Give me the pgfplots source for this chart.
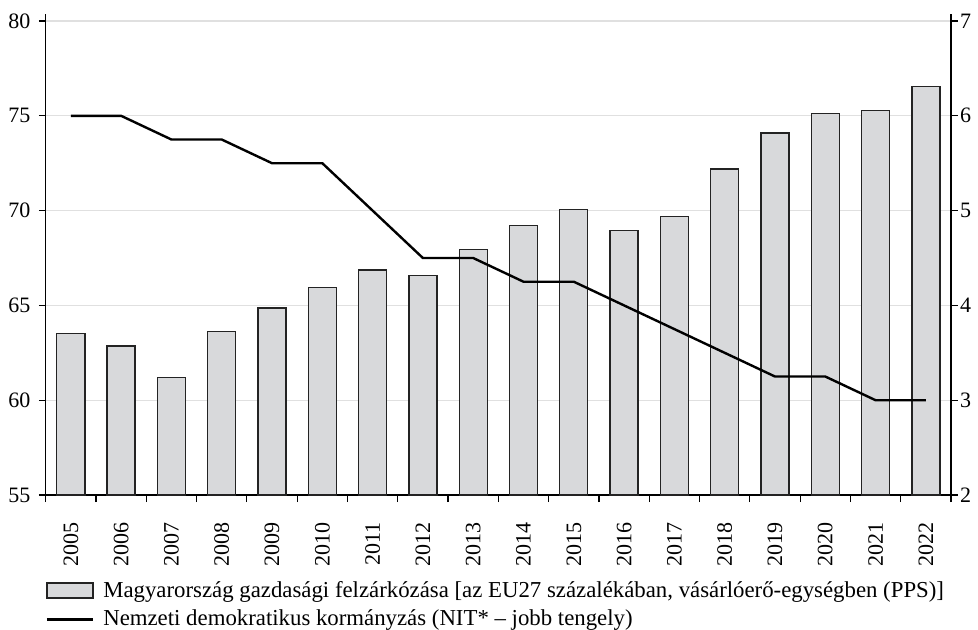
\documentclass[border=0pt]{standalone}
\usepackage{fontspec}
\setmainfont{Liberation Serif}
\usepackage{pgfplots}
\pgfplotsset{compat=1.18}
\definecolor{barfill}{RGB}{216,217,219}
\definecolor{baredge}{RGB}{35,35,35}
\definecolor{gridc}{RGB}{224,224,224}
\begin{document}
\begin{tikzpicture}
\useasboundingbox (-22.85pt,-67pt) rectangle (466.15pt,247.5pt);
\begin{axis}[
  at={(0,0)}, anchor=south west, scale only axis,
  width=452.65pt, height=240.5pt,
  xmin=-0.5, xmax=17.5, ymin=55, ymax=80.37,
  axis x line*=bottom, axis y line*=left,
  axis line style={line width=0.6pt},
  ytick={55,60,...,80},
  ymajorgrids, grid style={gridc, line width=0.6pt},
  xtick={0,...,17},
  xticklabels={2005,2006,2007,2008,2009,2010,2011,2012,2013,2014,2015,2016,2017,2018,2019,2020,2021,2022},
  major x tick style={draw=none},
  extra x ticks={-0.5,0.5,...,17.5},
  extra x tick labels={},
  extra x tick style={major x tick style={draw=black, line width=0.6pt}, major tick length=3.5pt},
  tick align=outside, major tick length=3.4pt,
  ytick style={black, line width=0.6pt},
  /pgf/number format/assume math mode=true,
  yticklabel style={font=\fontsize{11}{13}\selectfont, inner sep=0pt, xshift=-4pt},
  xticklabel style={rotate=90, anchor=east, font=\fontsize{11}{13}\selectfont, inner sep=0pt},
  xticklabel shift=10pt,
]
\addplot[ybar, bar width=0.557, fill=barfill, draw=baredge, line width=0.65pt] coordinates {
(0,63.51) (1,62.86) (2,61.21) (3,63.63) (4,64.86) (5,65.93) (6,66.87) (7,66.59) (8,67.94)
(9,69.2) (10,70.07) (11,68.94) (12,69.68) (13,72.19) (14,74.1) (15,75.11) (16,75.29) (17,76.56)};
\end{axis}
\begin{axis}[
  at={(0,0)}, anchor=south west, scale only axis,
  width=452.65pt, height=240.5pt,
  xmin=-0.5, xmax=17.5, ymin=2, ymax=7.074,
  axis y line*=right, axis x line=none,
  axis line style={line width=0.6pt},
  ytick={2,...,7},
  tick align=outside, major tick length=3.4pt,
  ytick style={black, line width=0.6pt},
  /pgf/number format/assume math mode=true,
  yticklabel style={font=\fontsize{11}{13}\selectfont, inner sep=0pt, xshift=1pt},
  legend style={at={(0,0)}, anchor=north west, draw=none, fill=none,
    inner sep=0pt, outer sep=0pt, yshift=-42pt, row sep=3pt,
    font=\fontsize{11.4}{13}\selectfont,
    nodes={inner sep=0pt, inner ysep=1pt}},
  legend cell align=left,
]
\addlegendimage{legend image code/.code={\draw[fill=barfill,draw=baredge,line width=0.6pt] (0pt,-3.75pt) rectangle (23pt,3.75pt);}}
\addlegendentry{\hspace*{4.5pt}Magyarország gazdasági felzárkózása [az EU27 százalékában, vásárlóerő-egységben (PPS)]}
\addplot[black, line width=1.2pt, legend image code/.code={\draw[black,line width=1.3pt] (0pt,0pt) -- (23pt,0pt);}] coordinates {
(0,6) (1,6) (2,5.75) (3,5.75) (4,5.5) (5,5.5) (6,5) (7,4.5) (8,4.5) (9,4.25)
(10,4.25) (11,4) (12,3.75) (13,3.5) (14,3.25) (15,3.25) (16,3) (17,3)};
\addlegendentry{\hspace*{4.5pt}Nemzeti demokratikus kormányzás (NIT* – jobb tengely)}
\end{axis}
\end{tikzpicture}
\end{document}
